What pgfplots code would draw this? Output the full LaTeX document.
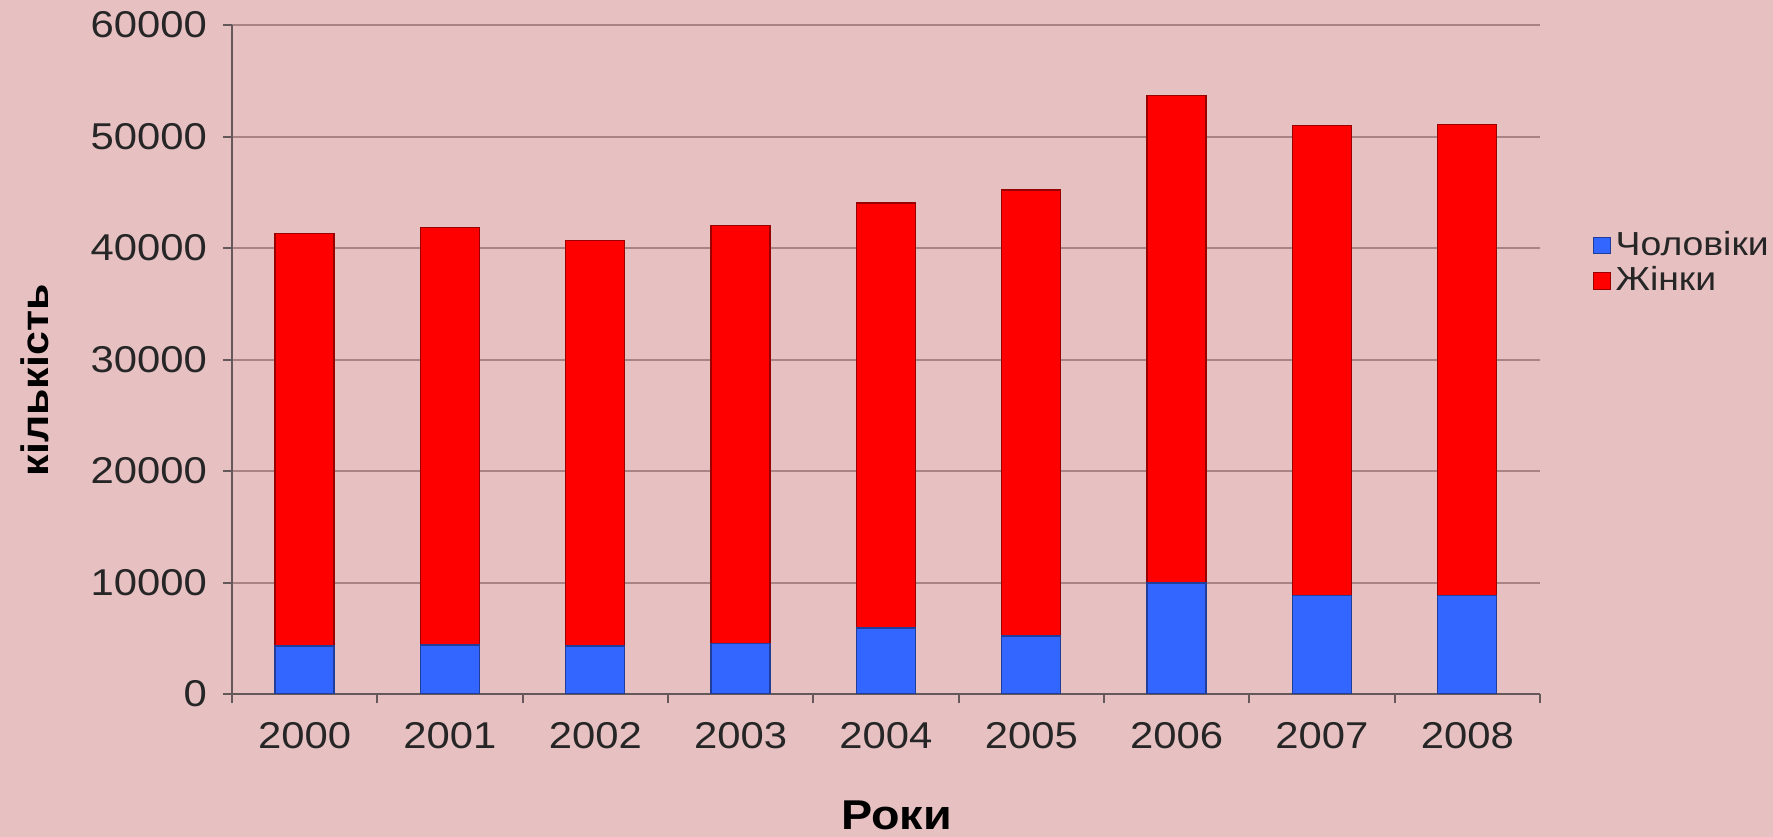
\documentclass[border=0pt]{standalone}
\usepackage{fontspec}
\setmainfont{Liberation Sans}[FakeStretch=1.12]
\usepackage{pgfplots}
\pgfplotsset{compat=1.18}
\definecolor{bg}{RGB}{231,192,194}
\definecolor{gridc}{RGB}{168,132,134}
\definecolor{axc}{RGB}{100,88,90}
\definecolor{menblue}{RGB}{51,102,255}
\definecolor{womred}{RGB}{255,0,0}
\begin{document}
\begin{tikzpicture}
\useasboundingbox (-69.6pt,-42.9pt) rectangle (462.3pt,208.2pt);
\fill[bg] (-69.6pt,-42.9pt) rectangle (462.3pt,208.2pt);
\begin{axis}[
  scale only axis, width=392.4pt, height=200.7pt,
  ybar stacked, bar width=17.7pt,
  xmin=-0.5, xmax=8.5, ymin=0, ymax=60000,
  axis x line*=bottom, axis y line*=left,
  axis line style={draw=axc, line width=0.6pt},
  xtick={0,1,2,3,4,5,6,7,8},
  xticklabels={2000,2001,2002,2003,2004,2005,2006,2007,2008},
  major x tick style={draw=none},
  minor xtick={-0.5,0.5,1.5,2.5,3.5,4.5,5.5,6.5,7.5,8.5},
  minor x tick style={draw=axc, line width=0.6pt},
  ytick={0,10000,20000,30000,40000,50000,60000},
  major y tick style={draw=axc, line width=0.6pt},
  tick align=outside,
  major tick length=2.8pt, minor tick length=2.8pt,
  scaled y ticks=false,
  /pgf/number format/assume math mode=true,
  yticklabel style={/pgf/number format/1000 sep={}, xshift=-1.2pt},
  xticklabel style={yshift=-2.2pt},
  ticklabel style={font=\fontsize{11.2}{13}\selectfont, text=black!85},
  ymajorgrids,
  grid style={draw=gridc, line width=0.6pt},
  xlabel={Роки}, ylabel={кількість},
  every axis x label/.style={at={(axis description cs:0.508,-0.182)}, anchor=center, font=\bfseries\fontsize{12.5}{14}\selectfont},
  every axis y label/.style={at={(axis description cs:-0.151,0.469)}, rotate=90, anchor=center, font=\bfseries\fontsize{11.5}{13}\selectfont},
  legend style={at={(1.04,0.644)}, anchor=west, draw=none, fill=none,
    font=\fontsize{10}{12}\selectfont, inner sep=0pt, row sep=-1.2pt,
    nodes={inner sep=1.5pt, text=black!85}},
  legend cell align=left,
  legend image code/.code={\filldraw[#1, line width=0.3pt] (0pt,-2.5pt) rectangle (5pt,2.5pt);},
]
\addplot[fill=menblue, draw=menblue!60!black, line width=0.4pt] coordinates {(0,4300) (1,4400) (2,4300) (3,4550) (4,5930) (5,5200) (6,9950) (7,8830) (8,8830)};
\addplot[fill=womred, draw=womred!60!black, line width=0.4pt] coordinates {(0,37000) (1,37450) (2,36370) (3,37450) (4,38120) (5,40000) (6,43750) (7,42140) (8,42230)};
\legend{Чоловіки, Жінки}
\end{axis}
\end{tikzpicture}
\end{document}
